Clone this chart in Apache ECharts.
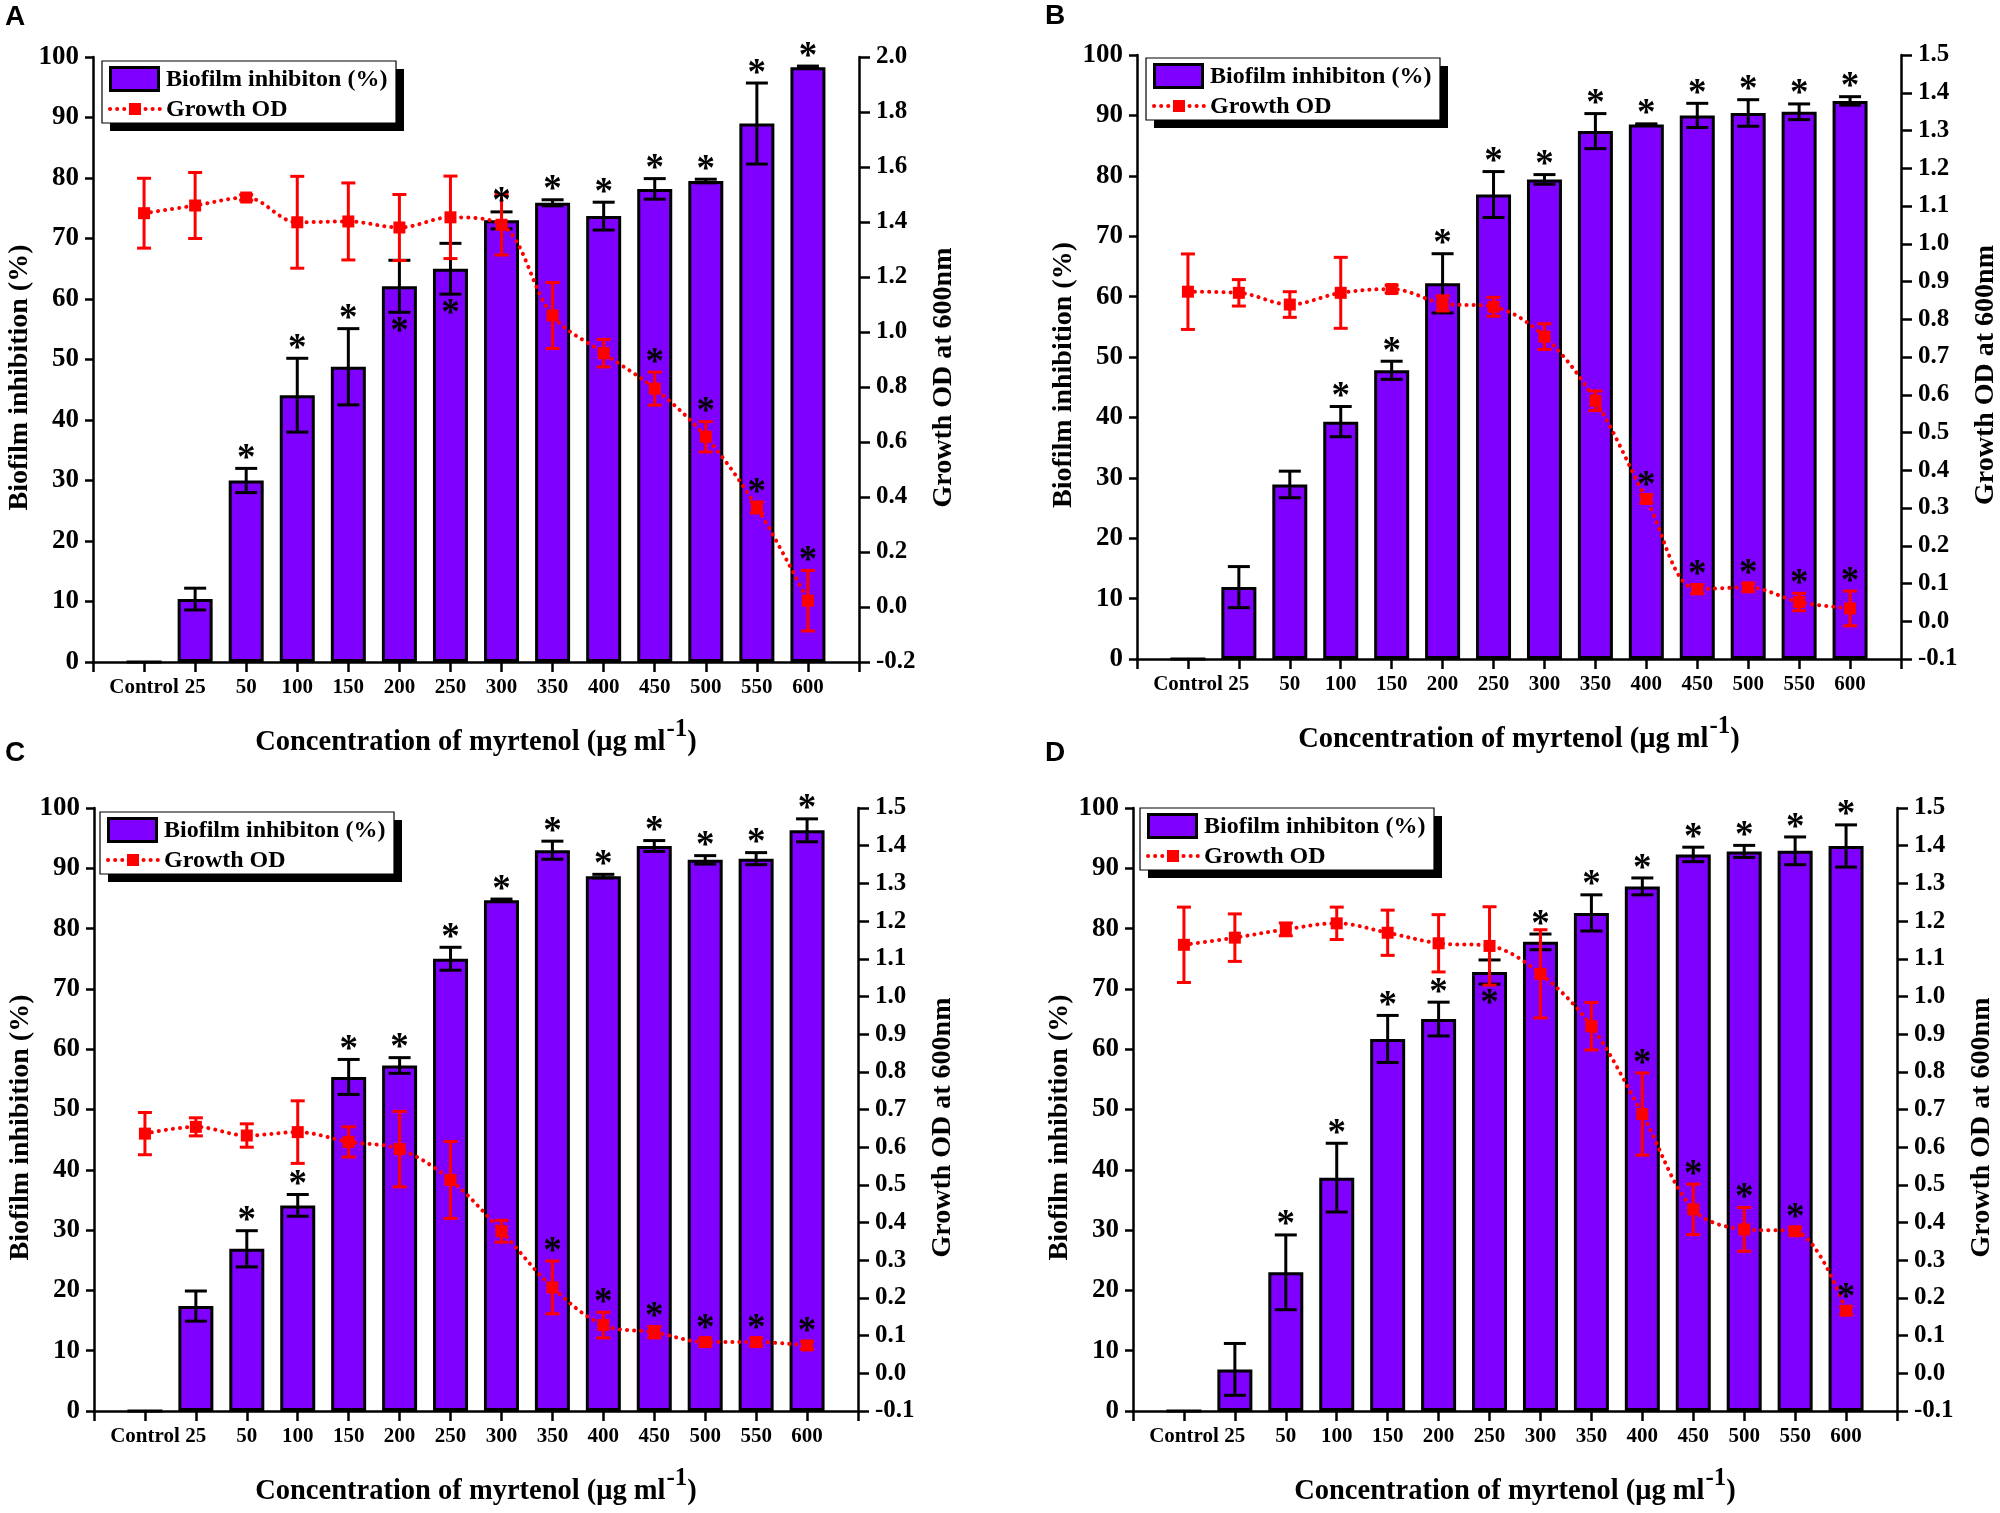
<!DOCTYPE html>
<html><head><meta charset="utf-8">
<script src="https://cdn.jsdelivr.net/npm/echarts@6/dist/echarts.min.js"></script>
<style>html,body{margin:0;padding:0;background:#fff}#c{width:2000px;height:1513px}</style>
</head><body><div id="c"></div><script>
// ---------------- data ----------------
const categories = ['Control','25','50','100','150','200','250','300','350','400','450','500','550','600'];
const xTickLabels = [''].concat(categories, ['']);
const leftTicks = {min: 0, max: 100, interval: 10};

// Panel A
const barA    = [0, 10.4, 30.0, 44.1, 48.8, 62.1, 65.0, 73.0, 75.9, 73.7, 78.2, 79.5, 89.0, 98.3];
const barErrA = [0, 1.8, 2.0, 6.1, 6.3, 4.3, 4.2, 1.4, 0.5, 2.3, 1.7, 0.3, 6.7, 0.2];
const odA     = [1.432, 1.460, 1.489, 1.399, 1.402, 1.380, 1.417, 1.390, 1.060, 0.923, 0.794, 0.619, 0.362, 0.023];
const odErrA  = [0.127, 0.12, 0.01, 0.167, 0.14, 0.12, 0.15, 0.11, 0.12, 0.05, 0.06, 0.055, 0.02, 0.11];
const starBarA = [0, 0, 1, 1, 1, -1, -1, 1, 1, 1, 1, 1, 1, 1];
const starOdA  = [0, 0, 0, 0, 0, 0, 0, 0, 0, 0, 1, 1, 1, 1];

// Panel B
const barB    = [0, 11.9, 28.9, 39.3, 47.8, 62.2, 76.9, 79.4, 87.4, 88.5, 90.0, 90.4, 90.6, 92.4];
const barErrB = [0, 3.4, 2.2, 2.5, 1.5, 4.9, 3.8, 0.8, 2.9, 0.1, 2.0, 2.2, 1.3, 0.7];
const odB     = [0.873, 0.870, 0.839, 0.870, 0.880, 0.842, 0.833, 0.754, 0.584, 0.324, 0.085, 0.090, 0.051, 0.034];
const odErrB  = [0.10, 0.035, 0.034, 0.094, 0.01, 0.02, 0.025, 0.034, 0.026, 0.01, 0.012, 0.01, 0.023, 0.046];
const starBarB = [0, 0, 0, 1, 1, 1, 1, 1, 1, 1, 1, 1, 1, 1];
const starOdB  = [0, 0, 0, 0, 0, 0, 0, 0, 0, 1, 1, 1, 1, 1];

// Panel C
const barC    = [0, 17.4, 26.9, 34.1, 55.4, 57.3, 75.0, 84.7, 93.0, 88.7, 93.7, 91.4, 91.6, 96.3];
const barErrC = [0, 2.5, 3.0, 1.8, 2.9, 1.3, 1.9, 0.2, 1.5, 0.3, 0.9, 0.7, 1.0, 1.9];
const odC     = [0.636, 0.654, 0.631, 0.640, 0.614, 0.595, 0.513, 0.377, 0.228, 0.128, 0.109, 0.083, 0.083, 0.074];
const odErrC  = [0.056, 0.024, 0.031, 0.083, 0.040, 0.10, 0.102, 0.029, 0.07, 0.034, 0.015, 0.01, 0.01, 0.01];
const starBarC = [0, 0, 1, 1, 1, 1, 1, 1, 1, 1, 1, 1, 1, 1];
const starOdC  = [0, 0, 0, 0, 0, 0, 0, 0, 1, 1, 1, 1, 1, 1];

// Panel D
const barD    = [0, 6.9, 23.0, 38.7, 61.7, 65.0, 72.8, 77.8, 82.6, 87.0, 92.3, 92.8, 92.9, 93.7];
const barErrD = [0, 4.3, 6.2, 5.7, 3.9, 2.8, 2.0, 1.3, 3.0, 1.4, 1.2, 1.0, 2.3, 3.5];
const odD     = [1.137, 1.156, 1.178, 1.194, 1.169, 1.141, 1.134, 1.060, 0.921, 0.688, 0.435, 0.382, 0.377, 0.166];
const odErrD  = [0.10, 0.063, 0.017, 0.043, 0.06, 0.076, 0.104, 0.117, 0.063, 0.109, 0.067, 0.058, 0.01, 0.01];
const starBarD = [0, 0, 1, 1, 1, 1, -1, 1, 1, 1, 1, 1, 1, 1];
const starOdD  = [0, 0, 0, 0, 0, 0, 0, 0, 0, 1, 1, 1, 1, 1];

// ---------------- layout / style ----------------
const SERIF = '"Liberation Serif", "Times New Roman", serif';
const PURPLE = '#7F00FF';
const RED = '#FF0000';
const panels = [
  {letter:'A', grid:{left:93, top:57, width:766, height:605}, r:{min:-0.2, max:2.0, interval:0.2},
   bar:barA, barErr:barErrA, od:odA, odErr:odErrA, sBar:starBarA, sOd:starOdA, lp:[5,17], lg:[102,61]},
  {letter:'B', grid:{left:1137, top:55, width:764, height:604}, r:{min:-0.1, max:1.5, interval:0.1},
   bar:barB, barErr:barErrB, od:odB, odErr:odErrB, sBar:starBarB, sOd:starOdB, lp:[1045,16], lg:[1146,58]},
  {letter:'C', grid:{left:94, top:808, width:764, height:603}, r:{min:-0.1, max:1.5, interval:0.1},
   bar:barC, barErr:barErrC, od:odC, odErr:odErrC, sBar:starBarC, sOd:starOdC, lp:[5,753], lg:[100,812]},
  {letter:'D', grid:{left:1133, top:808, width:764, height:603}, r:{min:-0.1, max:1.5, interval:0.1},
   bar:barD, barErr:barErrD, od:odD, odErr:odErrD, sBar:starBarD, sOd:starOdD, lp:[1045,753], lg:[1140,808]}
];

function errSeries(xi, yi, vals, errs, color, capW, z) {
  return {
    type:'custom', xAxisIndex:xi, yAxisIndex:yi, z:z, silent:true,
    data: vals.map((v,i)=>[i+1, v, errs[i]]),
    renderItem(params, api) {
      const x = api.value(0), v = api.value(1), e = api.value(2);
      if (!e) return null;
      const hi = api.coord([x, v+e]), lo = api.coord([x, v-e]);
      const s = {stroke:color, lineWidth:3};
      return {type:'group', children:[
        {type:'line', shape:{x1:hi[0], y1:hi[1], x2:lo[0], y2:lo[1]}, style:s},
        {type:'line', shape:{x1:hi[0]-capW/2, y1:hi[1], x2:hi[0]+capW/2, y2:hi[1]}, style:s},
        {type:'line', shape:{x1:lo[0]-capW/2, y1:lo[1], x2:lo[0]+capW/2, y2:lo[1]}, style:s}
      ]};
    }
  };
}
function starSeries(xi, yi, vals, errs, flags, z) {
  return {
    type:'custom', xAxisIndex:xi, yAxisIndex:yi, z:z, silent:true,
    data: vals.map((v,i)=>[i+1, v, errs[i], flags[i]]),
    renderItem(params, api) {
      const f = api.value(3);
      if (!f) return null;
      const x = api.value(0), v = api.value(1), e = api.value(2);
      const p = api.coord([x, f > 0 ? v+e : v-e]);
      return {type:'text', x:p[0], y:p[1] + (f > 0 ? -9 : 20),
        style:{text:'*', fill:'#000', font:'bold 37px ' + SERIF, align:'center', verticalAlign:'middle'}};
    }
  };
}
function legendGraphic(L, T) {
  const W = 294, H = 62;
  return [
    {type:'rect', z:100, shape:{x:L+8, y:T+8, width:W, height:H}, style:{fill:'#000'}},
    {type:'rect', z:101, shape:{x:L, y:T, width:W, height:H}, style:{fill:'#fff', stroke:'#000', lineWidth:1.2}},
    {type:'rect', z:102, shape:{x:L+8.5, y:T+6.5, width:48, height:23}, style:{fill:PURPLE, stroke:'#000', lineWidth:3}},
    {type:'line', z:102, shape:{x1:L+8, y1:T+48, x2:L+58, y2:T+48}, style:{stroke:RED, lineWidth:4, lineDash:[0.1,7], lineCap:'round'}},
    {type:'rect', z:103, shape:{x:L+27, y:T+42, width:12, height:12}, style:{fill:RED}},
    {type:'text', z:102, x:L+64, y:T+19, style:{text:'Biofilm inhibiton (%)', fill:'#000', font:'bold 24px ' + SERIF, verticalAlign:'middle'}},
    {type:'text', z:102, x:L+64, y:T+49, style:{text:'Growth OD', fill:'#000', font:'bold 24px ' + SERIF, verticalAlign:'middle'}}
  ];
}

const grids = [], xAxes = [], yAxes = [], series = [], graphics = [];
const axisLine = {show:true, lineStyle:{color:'#000', width:2.5}};
const axisTickStyle = {color:'#000', width:2.5};
panels.forEach((p, k) => {
  grids.push(Object.assign({containLabel:false, outerBoundsMode:'none'}, p.grid));
  xAxes.push({
    type:'category', gridIndex:k, data:xTickLabels, boundaryGap:false,
    axisLine:axisLine, axisTick:{show:true, interval:0, length:10, inside:false, lineStyle:axisTickStyle},
    axisLabel:{interval:0, margin:15, color:'#000', fontFamily:SERIF, fontWeight:'bold', fontSize:21},
    splitLine:{show:false},
    name:'{a|Concentration of myrtenol (μg ml}{s|-1}{a|)}', nameLocation:'middle', nameGap:55,
    nameTextStyle:{rich:{
      a:{fontFamily:SERIF, fontWeight:'bold', fontSize:28.5, color:'#000', verticalAlign:'bottom'},
      s:{fontFamily:SERIF, fontWeight:'bold', fontSize:25, color:'#000', verticalAlign:'bottom', padding:[0,0,15,1]}
    }}
  });
  yAxes.push({
    type:'value', gridIndex:k, position:'left', min:leftTicks.min, max:leftTicks.max, interval:leftTicks.interval,
    axisLine:axisLine, axisTick:{show:true, length:8, lineStyle:axisTickStyle},
    axisLabel:{margin:14, color:'#000', fontFamily:SERIF, fontWeight:'bold', fontSize:27},
    splitLine:{show:false},
    name:'Biofilm inhibition (%)', nameLocation:'middle', nameRotate:90, nameGap:59,
    nameTextStyle:{fontFamily:SERIF, fontWeight:'bold', fontSize:28, color:'#000', padding:[0,36,0,0]}
  });
  yAxes.push({
    type:'value', gridIndex:k, position:'right', min:p.r.min, max:p.r.max, interval:p.r.interval,
    axisLine:axisLine, axisTick:{show:true, length:11, lineStyle:axisTickStyle},
    axisLabel:{margin:17, color:'#000', fontFamily:SERIF, fontWeight:'bold', fontSize:25,
      formatter:v => Math.abs(v) < 1e-9 ? '0.0' : v.toFixed(1)},
    splitLine:{show:false},
    name:'Growth OD at 600nm', nameLocation:'middle', nameRotate:90, nameGap:71,
    nameTextStyle:{fontFamily:SERIF, fontWeight:'bold', fontSize:28, color:'#000', padding:[0,36,0,0]}
  });
  const yl = 2*k, yr = 2*k+1;
  series.push({
    type:'bar', xAxisIndex:k, yAxisIndex:yl, z:2, barWidth:35, silent:true,
    data:p.bar.map((v,i)=>[i+1, v]),
    itemStyle:{color:PURPLE, borderColor:'#000', borderWidth:3}
  });
  series.push(errSeries(k, yl, p.bar, p.barErr, '#000', 22, 3));
  series.push({
    type:'line', xAxisIndex:k, yAxisIndex:yr, z:4, silent:true, smooth:0.35,
    data:p.od.map((v,i)=>[i+1, v]),
    symbol:'rect', symbolSize:12, itemStyle:{color:RED},
    lineStyle:{color:RED, width:4, type:[0.1,7], cap:'round'}
  });
  series.push(errSeries(k, yr, p.od, p.odErr, RED, 14, 5));
  series.push(starSeries(k, yl, p.bar, p.barErr, p.sBar, 6));
  series.push(starSeries(k, yr, p.od, p.odErr, p.sOd, 6));
  graphics.push(...legendGraphic(p.lg[0], p.lg[1]));
  graphics.push({type:'text', z:100, x:p.lp[0], y:p.lp[1],
    style:{text:p.letter, fill:'#000', font:'bold 28px "Liberation Sans", Arial, sans-serif', verticalAlign:'middle'}});
});

const chart = echarts.init(document.getElementById('c'), null, {renderer:'canvas'});
chart.setOption({
  animation:false,
  backgroundColor:'#fff',
  textStyle:{fontFamily:SERIF},
  grid:grids, xAxis:xAxes, yAxis:yAxes, series:series,
  graphic:{elements:graphics}
});
</script></body></html>
